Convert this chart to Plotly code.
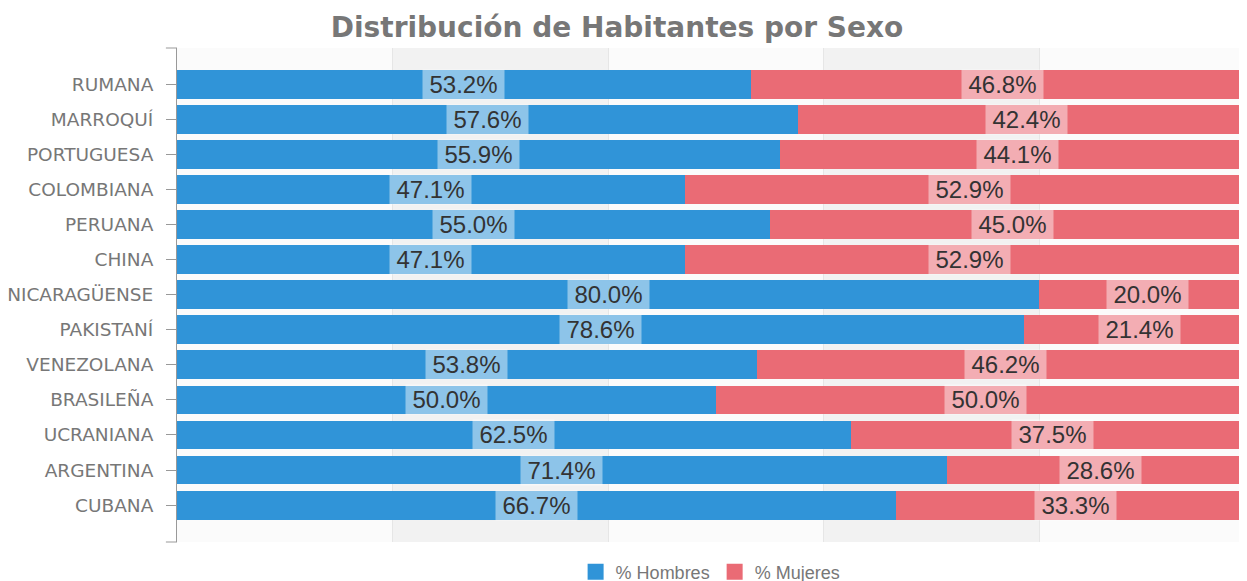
import plotly.graph_objects as go

categorias = ["RUMANA", "MARROQUÍ", "PORTUGUESA", "COLOMBIANA", "PERUANA", "CHINA",
              "NICARAGÜENSE", "PAKISTANÍ", "VENEZOLANA", "BRASILEÑA", "UCRANIANA",
              "ARGENTINA", "CUBANA"]
hombres = [53.2, 57.6, 55.9, 47.1, 55.0, 47.1, 80.0, 78.6, 53.8, 50.0, 62.5, 71.4, 66.7]
mujeres = [46.8, 42.4, 44.1, 52.9, 45.0, 52.9, 20.0, 21.4, 46.2, 50.0, 37.5, 28.6, 33.3]
series = ["% Hombres", "% Mujeres"]

AZUL = "#3094d8"
ROJO = "#ea6b75"

fig = go.Figure()
fig.add_trace(go.Bar(y=categorias, x=hombres, name=series[0], orientation="h",
                     marker=dict(color=AZUL, line=dict(width=0)), width=0.82, showlegend=False))
fig.add_trace(go.Bar(y=categorias, x=mujeres, name=series[1], orientation="h",
                     marker=dict(color=ROJO, line=dict(width=0)), width=0.82, showlegend=False))
# legend proxies (larger square symbols)
for nm, col in zip(series, (AZUL, ROJO)):
    fig.add_trace(go.Scatter(x=[None], y=[None], mode="markers", name=nm,
                             marker=dict(symbol="square", size=16, color=col)))

annotations = []
for c, h, m in zip(categorias, hombres, mujeres):
    for xc, v in ((h / 2, h), (h + m / 2, m)):
        annotations.append(dict(
            x=xc, y=c, xref="x", yref="y", text=f"{v:.1f}%", showarrow=False,
            font=dict(family="Liberation Sans, Arial, sans-serif", size=24, color="#333333"),
            bgcolor="rgba(255,255,255,0.45)", borderpad=4, height=21, width=73,
            align="center", valign="middle"))

shapes = []
for x0, x1 in ((20, 40), (60, 80)):
    shapes.append(dict(type="rect", xref="x", yref="paper", x0=x0, x1=x1, y0=0, y1=1,
                       fillcolor="#f2f2f2", line=dict(width=0), layer="below"))
for yy in (0, 1):
    shapes.append(dict(type="line", xref="paper", yref="paper", x0=-0.0103, x1=0,
                       y0=yy, y1=yy, line=dict(color="#999999", width=1)))

W, H = 1247, 581
fig.update_layout(
    width=W, height=H,
    barmode="stack",
    paper_bgcolor="white", plot_bgcolor="#fbfbfb",
    margin=dict(l=169, r=0, t=40, b=47, autoexpand=False),
    title=dict(text="<b>Distribución de Habitantes por Sexo</b>", x=609 / W, xanchor="center",
               y=1 - 19 / H, yanchor="middle",
               font=dict(family="DejaVu Sans, Verdana, sans-serif", size=28, color="#777777")),
    xaxis=dict(range=[0, 100], showticklabels=False, showgrid=True, gridcolor="#e6e6e6",
               gridwidth=1, dtick=20, zeroline=False, fixedrange=True, automargin=False),
    yaxis=dict(categoryorder="array", categoryarray=categorias, range=[13.05, -1.03],
               showline=True, linecolor="#999999", linewidth=1, ticks="outside",
               ticklen=10, tickcolor="#999999", showgrid=False, automargin=False,
               ticklabelstandoff=9,
               tickfont=dict(family="DejaVu Sans, Verdana, sans-serif", size=18.5, color="#777777")),
    legend=dict(orientation="h", x=0.495, xanchor="center", y=-30 / 494, yanchor="middle",
                font=dict(family="Liberation Sans, Arial, sans-serif", size=18, color="#777777"),
                itemwidth=30, traceorder="normal"),
    annotations=annotations,
    shapes=shapes,
)

fig.write_html("out.html")
